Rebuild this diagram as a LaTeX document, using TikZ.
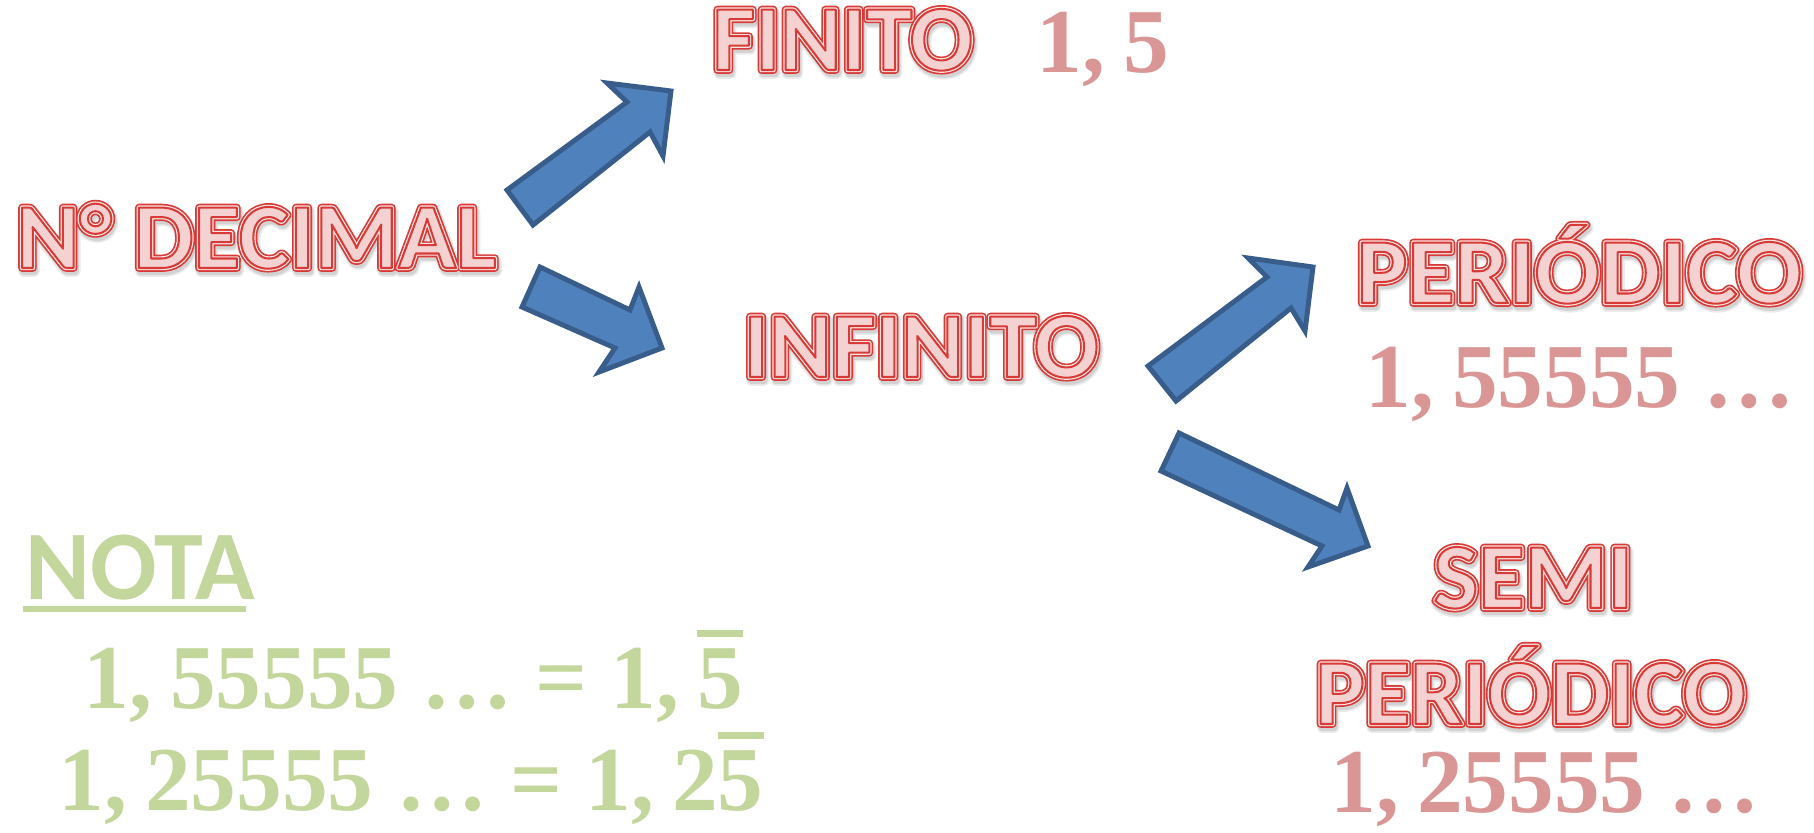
\documentclass[tikz,border=0pt]{standalone}
\usepackage{fontspec}
\setmainfont{Carlito}
\newfontfamily\numf{Liberation Serif}
\definecolor{outred}{HTML}{D83A36}
\definecolor{gapc}{HTML}{FAE6E6}
\definecolor{fillc}{HTML}{F4D2D2}
\definecolor{shadowA}{HTML}{EBEBEB}
\definecolor{shadowB}{HTML}{D2D2D2}
\definecolor{numpink}{HTML}{D99694}
\definecolor{notagreen}{HTML}{C3D69B}
\definecolor{arrfill}{HTML}{4F81BD}
\definecolor{arrdraw}{HTML}{385D8A}
% #1 render mode, #2 line width (bp), #3 colour, #4 text
\newcommand\strk[4]{{\color{#3}\special{pdf:literal direct #1 Tr #2 w 1 j}#4\special{pdf:literal direct 0 Tr}}}
\newcommand\outl[1]{%
 \rlap{\kern0.9pt\raisebox{-2pt}{\strk{2}{6.2}{shadowA}{#1}}}%
 \rlap{\kern0.9pt\raisebox{-2pt}{\strk{2}{4.2}{shadowB}{#1}}}%
 \rlap{\strk{2}{4.4}{outred}{#1}}%
 \rlap{\strk{2}{2.5}{gapc}{#1}}%
 \rlap{{\color{fillc}#1}}%
 \strk{1}{1.15}{outred}{#1}}
\newcommand\ovl[1]{\sbox0{#1}\rlap{\rule[\dimexpr\ht0+0.12em\relax]{\wd0}{0.075em}}\usebox0}
\tikzset{
 heading/.style={inner sep=0pt,anchor=base west,font={\fontsize{53}{60}\selectfont\bfseries\addfontfeature{FakeStretch=#1}}},
 heading/.default=1.025,
 numtxt/.style={inner sep=0pt,anchor=base west,text=numpink,font=\fontsize{52}{60}\numf\bfseries\selectfont},
 greentxt/.style={inner sep=0pt,anchor=base west,text=notagreen,font=\fontsize{52}{60}\numf\bfseries\selectfont},
 blockarrow/.style={fill=arrfill,draw=arrdraw,line width=2.8pt,line join=miter}
}
\begin{document}
\begin{tikzpicture}[x=0.02cm,y=-0.02cm]
\useasboundingbox (0,0) rectangle (1814,832);
% headings
\node[heading] (dec) at (16,268) {\outl{N° DECIMAL}};
\node[heading=1.0] (fin) at (712,70) {\outl{FINITO}};
\node[heading] (inf) at (743,377) {\outl{INFINITO}};
\node[heading=1.035] (per) at (1356,303) {\outl{PERIÓDICO}};
\node[heading=1.02] (semi) at (1433,608) {\outl{SEMI}};
\node[heading=1.0] (sper) at (1315,724) {\outl{PERIÓDICO}};
% numbers
\node[numtxt] (n1) at (1036,72) {1,\kern0.2em5};
\node[numtxt] (n2) at (1365,407) {1,\kern0.2em55555 …};
\node[numtxt] (n3) at (1330,812) {1,\kern0.2em25555 …};
% nota
\node[inner sep=0pt,anchor=base west,text=notagreen,font=\fontsize{56}{60}\bfseries\selectfont] (nota) at (25,599) {NOTA};
\draw[notagreen,line width=3.4pt] (23,609) -- (246,609);
\node[greentxt] (eq1) at (83,708) {1,\kern0.2em55555 … = 1,\kern0.2em\ovl{5}};
\node[greentxt] (eq2) at (58,810) {1,\kern0.2em25555 … = 1,\kern0.2em2\ovl{5}};
% arrows
\draw[blockarrow] (507,190) -- (627,102) -- (607,83) -- (671,91) -- (663,156) -- (650,132) -- (533,225) -- cycle;
\draw[blockarrow] (540,267) -- (630,310) -- (639,287) -- (662,348) -- (599,372) -- (615,348) -- (522,307) -- cycle;
\draw[blockarrow] (1148,366) -- (1267,277) -- (1248,258) -- (1313,267) -- (1305,331) -- (1291,308) -- (1176,401) -- cycle;
\draw[blockarrow] (1179,433) -- (1339,510) -- (1347,488) -- (1368,546) -- (1308,567) -- (1322,546) -- (1161,471) -- cycle;
\end{tikzpicture}
\end{document}
